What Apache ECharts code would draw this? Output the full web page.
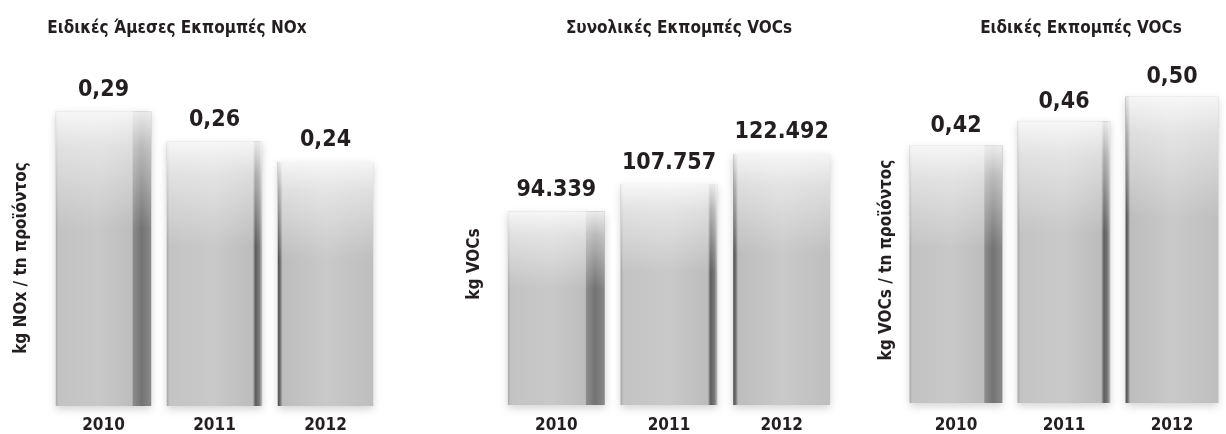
<!DOCTYPE html>
<html>
<head>
<meta charset="utf-8">
<script src="https://cdn.jsdelivr.net/npm/echarts@6/dist/echarts.min.js"></script>
<style>
  html, body { margin: 0; padding: 0; background: #ffffff; }
  #chart { width: 1226px; height: 434px; }
</style>
</head>
<body>
<div id="chart"></div>
<script>
// ---- data ----
const categories = ['2010', '2011', '2012'];
const noxSpecific = [0.29, 0.26, 0.24];
const vocTotal = [94339, 107757, 122492];
const vocSpecific = [0.42, 0.46, 0.50];
const panelTitles = ['Ειδικές Άμεσες Εκπομπές NOx', 'Συνολικές Εκπομπές VOCs', 'Ειδικές Εκπομπές VOCs'];
const axisNames = ['kg NOx / tn προϊόντος', 'kg VOCs', 'kg VOCs / tn προϊόντος'];

// ---- style ----
const FONT = '"Liberation Sans Narrow", "DejaVu Sans Condensed", "Open Sans", sans-serif';
const TXT = '#231f20';

function fmtDecimal(v) { return v.toFixed(2).replace('.', ','); }
function fmtThousands(v) { return String(Math.round(v)).replace(/\B(?=(\d{3})+(?!\d))/g, '.'); }

function lin(stops) {
  return new echarts.graphic.LinearGradient(0, 0, 1, 0, stops.map(s => ({ offset: s[0], color: s[1] })));
}
const barFaces = [
  lin([[0, '#a9a9a9'], [0.03, '#c3c3c3'], [0.45, '#c8c8c8'], [0.8, '#bdbdbd'], [0.81, '#8c8c8c'], [0.9, '#737373'], [1, '#8a8a8a']]),
  lin([[0, '#a4a4a4'], [0.03, '#c4c4c4'], [0.5, '#c9c9c9'], [0.9, '#bcbcbc'], [0.93, '#5c5c5c'], [0.97, '#7a7a7a'], [1, '#c4c4c4']]),
  lin([[0, '#4c4c4c'], [0.025, '#707070'], [0.05, '#bdbdbd'], [0.5, '#c9c9c9'], [1, '#bebebe']])
];
const shine = new echarts.graphic.LinearGradient(0, 0, 0, 1, [
  { offset: 0, color: 'rgba(255,255,255,0.85)' },
  { offset: 0.12, color: 'rgba(255,255,255,0.5)' },
  { offset: 0.4, color: 'rgba(255,255,255,0.0)' },
  { offset: 1, color: 'rgba(255,255,255,0)' }
]);

const panels = [
  { values: noxSpecific, fmt: fmtDecimal, max: 0.30, grid: { left: 48, right: 845, top: 101, bottom: 28 }, margin: 11, titleX: 172, nameX: 22, nameY: 258, dist: 10 },
  { values: vocTotal, fmt: fmtThousands, max: 140000, grid: { left: 500, right: 388, top: 118, bottom: 29 }, margin: 12, titleX: 674, nameX: 475, nameY: 264, dist: 10 },
  { values: vocSpecific, fmt: fmtDecimal, max: 0.55, grid: { left: 902, right: -15, top: 66, bottom: 31 }, margin: 14, titleX: 1076, nameX: 887, nameY: 260, dist: 8 }
];

const option = {
  backgroundColor: '#ffffff',
  animation: false,
  title: panels.map((p, i) => ({
    text: panelTitles[i], left: p.titleX, top: 15, textAlign: 'center',
    textStyle: { fontFamily: FONT, fontWeight: 'bold', fontSize: 17, color: TXT }
  })),
  grid: panels.map(p => Object.assign({ containLabel: false }, p.grid)),
  xAxis: panels.map((p, i) => ({
    type: 'category', gridIndex: i, data: categories,
    axisLine: { show: false }, axisTick: { show: false },
    axisLabel: { margin: p.margin, fontFamily: FONT, fontWeight: 'bold', fontSize: 17, color: TXT }
  })),
  yAxis: panels.map((p, i) => ({
    type: 'value', gridIndex: i, min: 0, max: p.max,
    axisLine: { show: false }, axisTick: { show: false },
    axisLabel: { show: false }, splitLine: { show: false }
  })),
  graphic: panels.map((p, i) => ({
    type: 'text', x: p.nameX, y: p.nameY, rotation: Math.PI / 2,
    style: { text: axisNames[i], fontFamily: FONT, fontWeight: 'bold', fontSize: 17, fill: TXT, align: 'center', verticalAlign: 'middle' }
  })),
  series: []
};

panels.forEach((p, i) => {
  option.series.push({
    type: 'bar', xAxisIndex: i, yAxisIndex: i, barWidth: '86%',
    data: p.values.map((v, k) => ({ value: v, itemStyle: { color: barFaces[k] } })),
    itemStyle: { shadowColor: 'rgba(0,0,0,0.18)', shadowBlur: 8, shadowOffsetY: 3 },
    label: {
      show: true, position: 'top', distance: p.dist,
      formatter: params => p.fmt(params.value),
      fontFamily: FONT, fontWeight: 'bold', fontSize: 23, color: TXT
    }
  });
  option.series.push({
    type: 'bar', xAxisIndex: i, yAxisIndex: i, barWidth: '86%', barGap: '-100%', silent: true,
    data: p.values.slice(),
    itemStyle: { color: shine }
  });
});

const chart = echarts.init(document.getElementById('chart'), null, { renderer: 'canvas' });
chart.setOption(option);
</script>
</body>
</html>
